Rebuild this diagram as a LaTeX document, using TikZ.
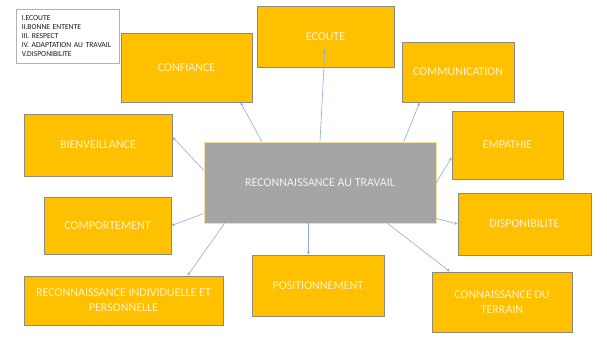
\documentclass[tikz,border=0pt]{standalone}
\usepackage{fontspec}
\setmainfont{Carlito}
\usetikzlibrary{calc}
\usetikzlibrary{arrows.meta}

\definecolor{orangebox}{HTML}{FFC000}
\definecolor{bordbox}{HTML}{8E8A7E}
\definecolor{grisbox}{HTML}{A5A5A5}
\definecolor{bordgris}{HTML}{F3DFA0}
\definecolor{fleche}{HTML}{8FAADC}
\definecolor{texte}{HTML}{FFF2CC}

\tikzset{
  bloc/.style={draw=bordbox, fill=orangebox, text=texte, inner sep=0pt, align=center,
    font=\fontsize{12}{15}\selectfont, line width=0.8pt},
  lien/.style={-{Stealth[length=3.5pt,width=3pt]}, draw=fleche, line width=0.6pt},
}

\begin{document}
\begin{tikzpicture}[x=1pt,y=-1pt]

\useasboundingbox (0,0) rectangle (607,343);

	%%% legend
    \node[draw=gray!60, fill=white, line width=0.5pt, anchor=north west, minimum height=54pt,
      text width=92pt, inner xsep=5.5pt, align=left, text=black!90,
      font=\fontsize{7.6}{9}\selectfont] (legende) at (16,9)
      {I.ECOUTE\\II.BONNE ENTENTE\\III. RESPECT\\IV. ADAPTATION AU TRAVAIL\\V.DISPONIBILITE};

	%%% boxes
    \node[bloc, minimum width=131pt, minimum height=69pt] (confiance) at (186.5,67.5) {CONFIANCE};
    \node[bloc, minimum width=137pt, minimum height=61pt] (ecoute) at (325.5,36.5) {ECOUTE};
    \node[bloc, minimum width=112pt, minimum height=60pt] (communication) at (458,72) {COMMUNICATION};
    \node[bloc, minimum width=148pt, minimum height=62pt] (bienveillance) at (98,145) {BIENVEILLANCE};
    \node[bloc, minimum width=111pt, minimum height=68pt] (empathie) at (507.5,145) {EMPATHIE};
    \node[bloc, minimum width=127pt, minimum height=57pt] (comportement) at (107.5,225.5) {COMPORTEMENT};
    \node[bloc, minimum width=133pt, minimum height=62pt] (disponibilite) at (524.5,224) {DISPONIBILITE};
    \node[bloc, minimum width=132pt, minimum height=61pt] (positionnement) at (318,285.5) {POSITIONNEMENT};
    \node[bloc, minimum width=199pt, minimum height=49pt] (individuelle) at (123.5,300.5)
      {RECONNAISSANCE INDIVIDUELLE ET\\PERSONNELLE};
    \node[bloc, minimum width=140pt, minimum height=60pt] (terrain) at (502,302)
      {CONNAISSANCE DU\\TERRAIN};

    % centre
    \node[bloc, draw=bordgris, fill=grisbox, text=black!5, minimum width=232pt, minimum height=81pt]
      (centre) at (320,182.5) {RECONNAISSANCE AU TRAVAIL};

	%%% arrows
    \draw[lien] ($(centre.north west)!0.25!(centre.north east)$) -- ($(confiance.south west)!0.91!(confiance.south east)$);
    \draw[lien, shorten >=13pt] (centre.north) -- (ecoute.center);
    \draw[lien] ($(centre.north west)!0.86!(centre.north east)$) -- ($(communication.south west)!0.16!(communication.south east)$);
    \draw[lien] (centre.east) -- ($(empathie.north west)!0.68!(empathie.south west)$);
    \draw[lien] ($(centre.north east)!0.94!(centre.south east)$) -- (disponibilite.west);
    \draw[lien] ($(centre.south west)!0.79!(centre.south east)$) -- ($(terrain.north west)!0.13!(terrain.north east)$);

    \coordinate (P) at ($(centre.south west)!0.45!(centre.south east)$);
    \draw[lien] (P) -- (P |- positionnement.north);

    \draw[lien] ($(centre.south west)!0.09!(centre.south east)$) -- ($(individuelle.north west)!0.82!(individuelle.north east)$);
    \draw[lien] ($(centre.north west)!0.88!(centre.south west)$) -- (comportement.east);
    \draw[lien] ($(centre.north west)!0.35!(centre.south west)$) -- ($(bienveillance.north east)!0.37!(bienveillance.south east)$);

\end{tikzpicture}
\end{document}
